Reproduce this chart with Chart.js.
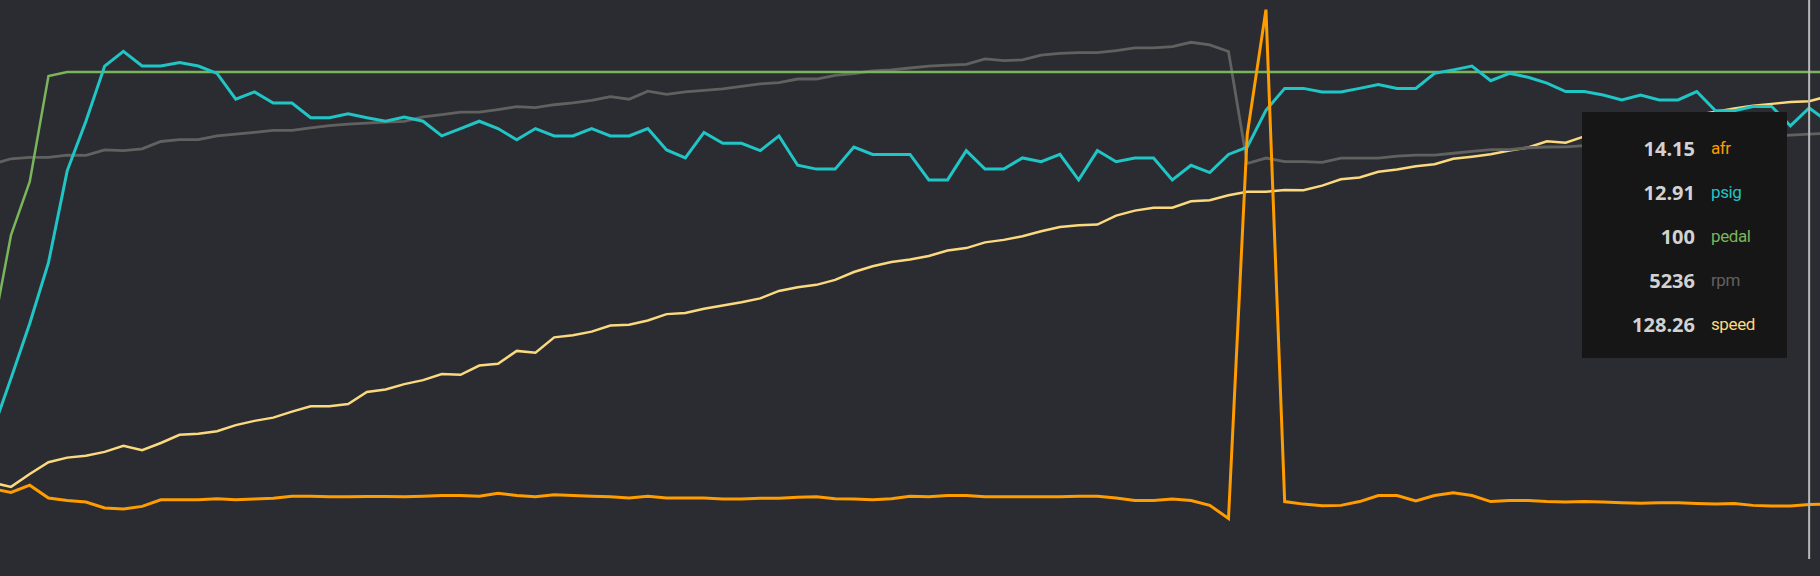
<!DOCTYPE html>
<html>
<head>
<meta charset="utf-8">
<title>datalog</title>
<script src="https://cdn.jsdelivr.net/npm/chart.js@4.4.1/dist/chart.umd.min.js"></script>
<style>
  html, body { margin: 0; padding: 0; background: #2b2c32; }
  #wrap { position: relative; width: 1820px; height: 576px; overflow: hidden; }
  #log { display: block; }
  #tip {
    position: absolute; background: #161616; box-sizing: border-box;
    padding-top: 14px;
  }
  .tip-row { display: flex; align-items: center; height: 44px; }
  .tip-val { width: 113px; text-align: right; color: #d2d2d2; font-family: "Open Sans", sans-serif; font-size: 20px; font-weight: 700; }
  .tip-lbl { margin-left: 16px; font-family: Roboto, sans-serif; font-size: 17px; letter-spacing: -0.4px; }
</style>
</head>
<body>
<div id="wrap">
  <canvas id="log" width="1820" height="576"></canvas>
  <div id="tip"></div>
</div>
<script>
/* Datalog pull: afr / boost / pedal / rpm / speed */
const $ = id => document.getElementById(id);

const samples = [0,1,2,3,4,5,6,7,8,9,10,11,12,13,14,15,16,17,18,19,20,21,22,23,24,25,26,27,28,29,30,31,32,33,34,35,36,37,38,39,40,41,42,43,44,45,46,47,48,49,50,51,52,53,54,55,56,57,58,59,60,61,62,63,64,65,66,67,68,69,70,71,72,73,74,75,76,77,78,79,80,81,82,83,84,85,86,87,88,89,90,91,92,93,94,95,96,97,98];

const afr = [14.78,14.63,14.92,14.41,14.31,14.25,14.02,13.98,14.08,14.34,14.34,14.34,14.38,14.34,14.37,14.40,14.48,14.48,14.46,14.46,14.47,14.47,
  14.46,14.48,14.51,14.51,14.48,14.60,14.51,14.46,14.54,14.51,14.48,14.46,14.41,14.48,14.41,14.41,14.41,14.37,14.37,14.40,14.40,14.44,
  14.46,14.38,14.37,14.34,14.38,14.48,14.46,14.51,14.51,14.46,14.46,14.46,14.46,14.46,14.48,14.48,14.41,14.31,14.31,14.37,14.31,
  14.12,13.60,28.78,33.72,14.27,14.17,14.11,14.12,14.27,14.51,14.51,14.30,14.51,14.62,14.51,14.27,14.31,14.31,14.27,
  14.25,14.27,14.25,14.22,14.20,14.22,14.22,14.19,14.17,14.19,14.12,14.10,14.10,14.15,14.17];

const psig = [3.64,5.17,6.74,8.48,11.11,12.53,14.11,14.53,14.11,14.11,14.21,14.11,13.90,13.16,13.37,13.05,13.05,12.63,12.63,12.74,12.63,12.53,
  12.65,12.53,12.11,12.32,12.53,12.32,12.00,12.32,12.11,12.11,12.32,12.11,12.11,12.32,11.71,11.48,12.21,11.90,11.90,11.69,12.11,11.27,
  11.16,11.16,11.79,11.58,11.58,11.58,10.85,10.85,11.69,11.16,11.16,11.48,11.37,11.58,10.85,11.69,11.37,11.48,11.48,10.85,11.27,
  11.06,11.58,11.79,12.84,13.47,13.47,13.37,13.37,13.47,13.58,13.47,13.47,13.90,14.00,14.11,13.69,13.90,13.79,13.62,
  13.38,13.38,13.28,13.14,13.28,13.14,13.14,13.38,12.83,12.83,12.95,12.95,12.40,12.91,12.52];

const pedal = [46.1,66.5,77.5,99.2,100,100,100,100,100,100,100,100,100,100,100,100,100,100,100,100,100,100,
  100,100,100,100,100,100,100,100,100,100,100,100,100,100,100,100,100,100,100,100,100,100,
  100,100,100,100,100,100,100,100,100,100,100,100,100,100,100,100,100,100,100,100,100,
  100,100,100,100,100,100,100,100,100,100,100,100,100,100,100,100,100,100,100,
  100,100,100,100,100,100,100,100,100,100,100,100,100,100,100];

const rpm = [4865,4933,4951,4951,4978,4974,5042,5033,5055,5146,5169,5169,5214,5237,5259,5282,5282,5314,5341,5359,5373,5386,
  5395,5450,5477,5508,5508,5540,5576,5563,5599,5622,5653,5699,5667,5767,5726,5758,5776,5794,5826,5857,5871,5916,
  5916,5961,5984,6016,6029,6052,6075,6088,6097,6165,6143,6152,6211,6233,6242,6242,6265,6301,6301,6315,6369,
  6337,6256,4874,4942,4897,4897,4888,4942,4942,4942,4965,4978,4978,5001,5024,5046,5046,5069,5078,
  5080,5095,5108,5120,5131,5142,5152,5163,5178,5190,5202,5213,5225,5236,5248];

const speed = [21.4,20.2,23.8,27.1,28.4,28.9,30.0,31.7,30.5,32.5,34.8,35.1,35.8,37.5,38.7,39.6,41.3,42.8,42.8,43.4,46.8,47.5,
  49.0,50.1,51.8,51.6,54.2,54.7,58.3,57.8,62.1,62.7,63.7,65.4,65.6,66.8,68.6,68.9,70.1,71.0,71.9,73.0,75.1,76.1,
  76.8,78.2,80.4,82.0,83.2,83.9,84.9,86.4,87.1,88.7,89.4,90.4,91.8,93.0,93.5,93.7,96.2,97.6,98.4,98.4,100.2,
  100.5,101.9,102.9,102.9,103.4,103.3,104.6,106.4,106.9,108.5,109.1,110.0,110.6,112.1,112.7,113.4,114.4,115.3,117.0,
  116.6,118.4,119.5,120.6,121.5,122.6,123.4,124.4,125.3,126.2,127.0,127.5,128.0,128.26,129.6];

const hoverIndex = 97;

// one hidden axis per channel
const channels = [
  { key: 'afr',   data: afr,   color: '#ff9c00', width: 3,   min: 12, max: 34.1 },
  { key: 'psig',  data: psig,  color: '#20c5c6', width: 3,   min: 0,  max: 16 },
  { key: 'pedal', data: pedal, color: '#7ab55c', width: 2.5, min: 0,  max: 114.8 },
  { key: 'rpm',   data: rpm,   color: '#616160', width: 2.8, min: 0,  max: 6890 },
  { key: 'speed', data: speed, color: '#fbd97f', width: 2.5, min: 0,  max: 156.6 }
];

const scales = {
  x: { type: 'linear', display: false, min: 0.4127, max: 97.58 }
};
channels.forEach(c => {
  scales['y_' + c.key] = { type: 'linear', display: false, min: c.min, max: c.max };
});

const hoverLine = {
  id: 'hoverLine',
  afterDatasetsDraw(chart) {
    const x = chart.scales.x.getPixelForValue(samples[hoverIndex]);
    const { top, bottom } = chart.chartArea;
    const ctx = chart.ctx;
    ctx.save();
    ctx.strokeStyle = '#b8b8b8';
    ctx.lineWidth = 2;
    ctx.beginPath();
    ctx.moveTo(x, top);
    ctx.lineTo(x, bottom);
    ctx.stroke();
    ctx.restore();
  }
};

new Chart($('log').getContext('2d'), {
  type: 'line',
  data: {
    datasets: channels.map(c => ({
      label: c.key,
      data: samples.map((s, i) => ({ x: s, y: c.data[i] })),
      borderColor: c.color,
      borderWidth: c.width,
      pointRadius: 0,
      tension: 0,
      fill: false,
      yAxisID: 'y_' + c.key
    }))
  },
  options: {
    responsive: false,
    devicePixelRatio: 1,
    animation: false,
    events: [],
    layout: { padding: { top: 0, left: 0, right: 0, bottom: 17 } },
    scales,
    plugins: { legend: { display: false }, tooltip: { enabled: false } }
  },
  plugins: [hoverLine]
});

// readout box for the hovered sample
const tip = $('tip');
tip.style.left = '1582px';
tip.style.top = '112px';
tip.style.width = '205px';
tip.style.height = '246px';
tip.innerHTML = channels.map(c =>
  `<div class="tip-row"><div class="tip-val">${c.data[hoverIndex]}</div><div class="tip-lbl" style="color:${c.color}">${c.key}</div></div>`
).join('');
</script>
</body>
</html>
